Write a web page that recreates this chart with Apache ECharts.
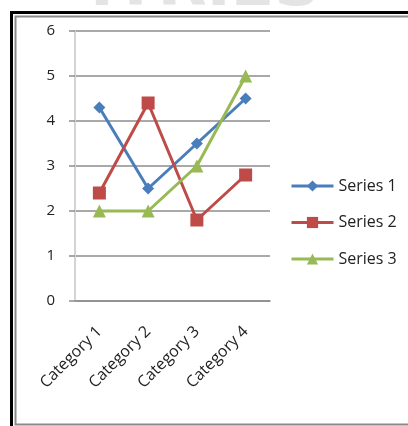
<!DOCTYPE html>
<html><head><meta charset="utf-8">
<script src="https://cdn.jsdelivr.net/npm/echarts@6/dist/echarts.min.js"></script>
<style>html,body{margin:0;padding:0;background:#fff}#c{width:408px;height:426px}</style>
</head><body><div id="c"></div>
<script>
const categories = ['Category 1', 'Category 2', 'Category 3', 'Category 4'];
const series1 = [4.3, 2.5, 3.5, 4.5];
const series2 = [2.4, 4.4, 1.8, 2.8];
const series3 = [2, 2, 3, 5];
const seriesNames = ['Series 1', 'Series 2', 'Series 3'];
const yTicks = [0, 1, 2, 3, 4, 5, 6];

const chart = echarts.init(document.getElementById('c'), null, {renderer: 'canvas'});
const font = '"Open Sans", Lato, sans-serif';
chart.setOption({
  animation: false,
  backgroundColor: '#fff',
  graphic: {
    elements: [
      {type: 'text', id: 'wm', left: 90, top: -44, silent: true, z: 0,
       style: {text: 'ITRIES', font: 'bold 64px "DejaVu Sans"', fill: '#e4e4e4'}},
      {type: 'rect', id: 'outer', silent: true, z: 1,
       shape: {x: 11.5, y: 12.5, width: 420, height: 440}, style: {fill: null, stroke: '#000', lineWidth: 3}},
      {type: 'rect', id: 'inner', silent: true, z: 2,
       shape: {x: 15.5, y: 16.5, width: 420, height: 408}, style: {fill: null, stroke: '#8a8a8a', lineWidth: 2}}
    ]
  },
  grid: {left: 75, right: 138, top: 31, bottom: 125, containLabel: false},
  legend: {
    orient: 'vertical', left: 285, top: 173, itemWidth: 42, itemHeight: 14, itemGap: 20.5,
    lineStyle: {width: 3},
    textStyle: {fontFamily: font, fontSize: 16, color: '#222'},
    data: seriesNames
  },
  xAxis: {
    type: 'category', data: categories, boundaryGap: true,
    axisLine: {lineStyle: {color: '#8c8c8c', width: 1.5}},
    axisTick: {length: 5, lineStyle: {color: '#8c8c8c', width: 1.5}},
    axisLabel: {rotate: 45, fontFamily: font, fontSize: 16, color: '#222', margin: 28}
  },
  yAxis: {
    type: 'value', min: yTicks[0], max: yTicks[yTicks.length - 1], interval: 1,
    axisLine: {show: true, lineStyle: {color: '#d4d4d4', width: 2}},
    axisTick: {show: true, length: 6, lineStyle: {color: '#8c8c8c', width: 1.5}},
    splitLine: {lineStyle: {color: '#8c8c8c', width: 1.5}},
    axisLabel: {fontFamily: font, fontSize: 15, color: '#222', margin: 20}
  },
  series: [
    {name: seriesNames[0], type: 'line', data: series1, color: '#4a7ebb', symbol: 'diamond', symbolSize: 12,
     lineStyle: {width: 3}, itemStyle: {color: '#4a7ebb'}},
    {name: seriesNames[1], type: 'line', data: series2, color: '#be4b48', symbol: 'rect', symbolSize: 13,
     lineStyle: {width: 3}, itemStyle: {color: '#be4b48'}},
    {name: seriesNames[2], type: 'line', data: series3, color: '#98b954', symbol: 'triangle', symbolSize: 13,
     lineStyle: {width: 3}, itemStyle: {color: '#98b954'}}
  ]
});
</script></body></html>
